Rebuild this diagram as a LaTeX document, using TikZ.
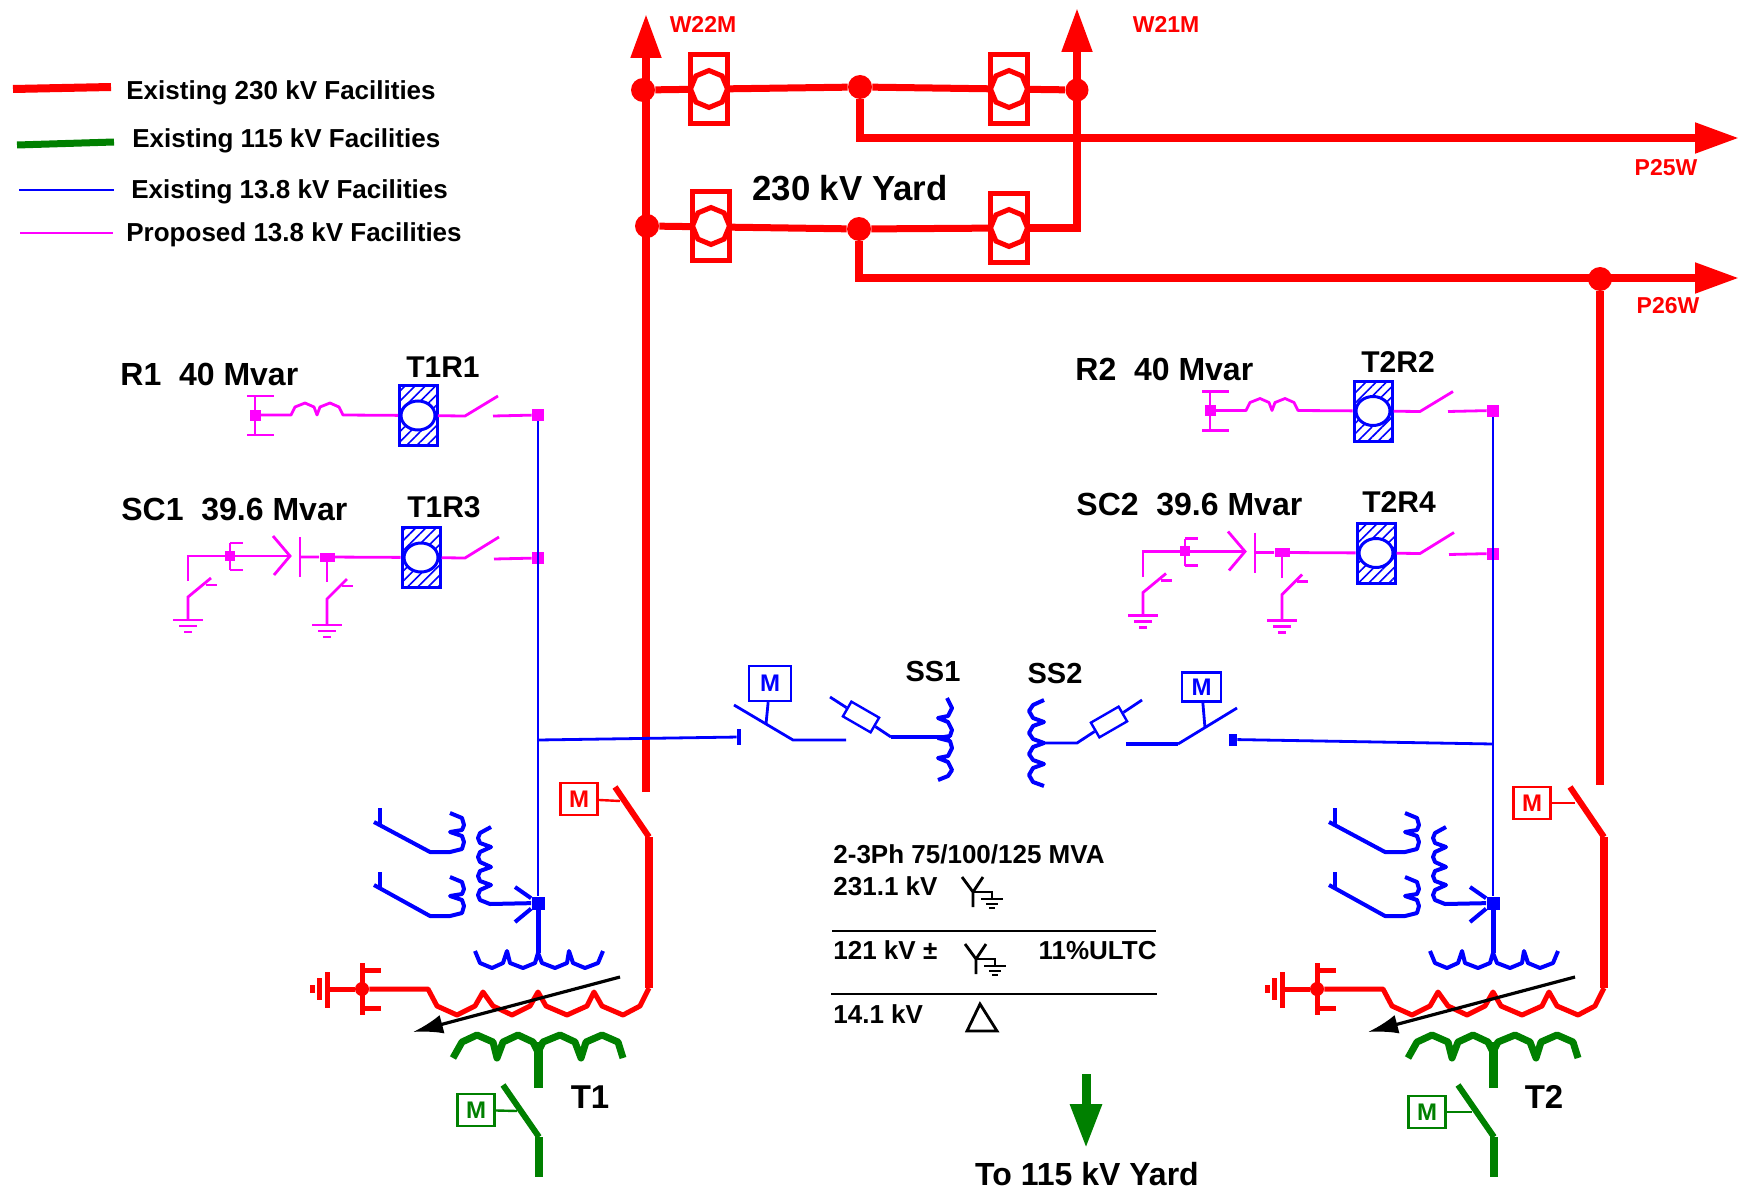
\documentclass[tikz,border=0pt]{standalone}
\usepackage{fontspec}
\setmainfont{Liberation Sans}
\usetikzlibrary{arrows.meta,patterns.meta,shapes.geometric}
\definecolor{hvcolor}{RGB}{255,0,0}
\definecolor{mvcolor}{RGB}{0,128,0}
\definecolor{lvcolor}{RGB}{0,0,255}
\definecolor{newcolor}{RGB}{255,0,255}
\newlength{\buswidth}
\newlength{\thinwidth}
\setlength{\buswidth}{4pt}
\setlength{\thinwidth}{1.4pt}
\tikzstyle{hvbus} = [draw=hvcolor, line width=\buswidth]
\tikzstyle{hvarrow} = [hvbus, -{Triangle[length=22pt,width=14.5pt]}]
\tikzstyle{hvlink} = [draw=hvcolor, line width=3.5pt]
\tikzstyle{hvwind} = [draw=hvcolor, line width=2.5pt, line join=round]
\tikzstyle{mvwind} = [draw=mvcolor, line width=3.5pt, line join=round]
\tikzstyle{mvbus} = [draw=mvcolor, line width=4pt]
\tikzstyle{lvwire} = [draw=lvcolor, line width=\thinwidth]
\tikzstyle{lvwind} = [draw=lvcolor, line width=2pt, line join=round]
\tikzstyle{newwire} = [draw=newcolor, line width=\thinwidth]
\tikzstyle{blackline} = [draw=black, line width=1.4pt]
\tikzstyle{hvjoint} = [circle, fill=hvcolor, inner sep=0, minimum size=12pt]
\tikzstyle{newjoint} = [rectangle, fill=newcolor, inner sep=0, minimum size=6pt]
\tikzstyle{lvjoint} = [rectangle, fill=lvcolor, inner sep=0, minimum size=6.5pt]
\tikzstyle{hvbreaker} = [rectangle, draw=hvcolor, line width=2.5pt, inner sep=0, minimum width=18.5pt, minimum height=34.5pt]
\tikzstyle{hvdisc} = [regular polygon, regular polygon sides=8, shape border rotate=22.5, draw=hvcolor, fill=white, line width=2.5pt, inner sep=0, minimum size=18.5pt]
\tikzstyle{lvbreaker} = [rectangle, draw=lvcolor, line width=1.5pt, inner sep=0, minimum width=19pt, minimum height=30pt, pattern={Lines[angle=45,distance=3.6pt,line width=.8pt]}, pattern color=lvcolor]
\tikzstyle{lvdisc} = [ellipse, draw=lvcolor, fill=white, line width=1.5pt, inner sep=0, minimum width=17pt, minimum height=14.5pt]
\tikzstyle{motorbox} = [rectangle, draw, line width=1.2pt, fill=white, inner sep=0, minimum width=18.5pt, minimum height=16pt, font=\fontsize{12}{12}\selectfont\bfseries]
\tikzstyle{fusebox} = [rectangle, draw=lvcolor, line width=1.2pt, fill=white, inner sep=0, minimum width=16pt, minimum height=8.5pt]
\tikzstyle{lbllegend} = [anchor=base west, inner sep=0, font=\fontsize{13}{13}\selectfont\bfseries]
\tikzstyle{lblline} = [anchor=base, inner sep=0, text=hvcolor, font=\fontsize{11.5}{12}\selectfont\bfseries]
\tikzstyle{lblbank} = [anchor=base west, inner sep=0, font=\fontsize{16}{16}\selectfont\bfseries]
\tikzstyle{lblbay} = [anchor=base, inner sep=0, font=\fontsize{15}{15}\selectfont\bfseries]
\tikzstyle{lbldata} = [anchor=base west, inner sep=0, font=\fontsize{13}{13}\selectfont\bfseries]
\tikzstyle{lbltrans} = [anchor=base, inner sep=0, font=\fontsize{16.5}{17}\selectfont\bfseries]
\newcommand{\hvunit}[2]{
	\node[hvbreaker] (#1) at (#2) {};
	\node[hvdisc] (#1disc) at (#2) {};
}
\newcommand{\lvunit}[2]{
	\node[lvbreaker] (#1) at (#2) {};
	\node[lvdisc] (#1disc) at (#2) {};
}
\newcommand{\earthmark}[1]{
	\draw[newwire] ([xshift=-7.5pt]#1) -- ([xshift=7.5pt]#1);
	\draw[newwire] ([xshift=-4.5pt,yshift=-3pt]#1) -- ([xshift=4.5pt,yshift=-3pt]#1);
	\draw[newwire] ([xshift=-2pt,yshift=-6pt]#1) -- ([xshift=2pt,yshift=-6pt]#1);
}
\newcommand{\wyemark}[3]{
	\begin{scope}[shift={(#2,#3)}]
		\coordinate (#1st) at (0,15);
		\coordinate (#1hub) at (0,0);
		\coordinate (#1la) at (-11,-15);
		\coordinate (#1ra) at (10,-15);
		\coordinate (#1gd) at (19,7);
		\draw[blackline] (#1st) -- (#1hub) -- (#1la);
		\draw[blackline] (#1hub) -- (#1ra);
		\draw[blackline] (#1hub) -| (#1gd);
		\draw[blackline] ([xshift=-5.5pt]#1gd) -- ([xshift=5.5pt]#1gd);
		\draw[blackline] ([xshift=-3pt,yshift=-2.5pt]#1gd) -- ([xshift=3pt,yshift=-2.5pt]#1gd);
		\draw[blackline] ([xshift=-1.5pt,yshift=-4.5pt]#1gd) -- ([xshift=1.5pt,yshift=-4.5pt]#1gd);
	\end{scope}
}
% reactor and capacitor bays, one for each transformer
\newcommand{\capbays}[7]{
	\begin{scope}[shift={(#2,#3)}]
		\node[lblbank] (#1rlbl) at (120,385) {#4};
		\node[lblbay] (#1rtag) at (443,377) {#5};
		\node[lblbank] (#1clbl) at (121,520) {#6};
		\node[lblbay] (#1ctag) at (444,517) {#7};
		% reactor row
		\node[newjoint] (#1rtap) at (538,415) {};
		\lvunit{#1rbrk}{418,415.5}
		\node[newjoint, minimum size=5.5pt] (#1rend) at (255,415) {};
		\coordinate (#1rtop) at (255,396);
		\coordinate (#1rbot) at (255,435);
		\coordinate (#1l1) at (291,415);
		\coordinate (#1l2) at (343,415);
		\coordinate (#1rsw) at (465,416);
		\coordinate (#1rtip) at (498,396);
		\coordinate (#1rgap) at (493,416);
		\draw[newwire] (#1rtop) -- (#1rbot);
		\draw[newwire] (#1rtop) ++(-8,0) -- ++(27,0);
		\draw[newwire] (#1rbot) ++(-8,0) -- ++(27,0);
		\draw[newwire, line join=round] (#1rend) -- (#1l1) -- (295,407) -- (305,403) -- (314,407) -- (317,415) -- (320,407) -- (330,403) -- (339,407) -- (#1l2) -- (#1rbrk);
		\draw[newwire] (#1rbrk) -- (#1rsw) -- (#1rtip);
		\draw[newwire] (#1rgap) -- (#1rtap);
		% capacitor row
		\node[newjoint] (#1ctap) at (538,558) {};
		\lvunit{#1cbrk}{421,557.5}
		\node[newjoint, minimum width=7.5pt, minimum height=4.5pt] (#1cnode) at (327,557) {};
		\node[newjoint, minimum size=5pt] (#1bnode) at (230,555.5) {};
		\coordinate (#1ccnr) at (188,556);
		\coordinate (#1cend) at (188,581);
		\coordinate (#1cpt) at (290,556);
		\coordinate (#1ptop) at (300,537);
		\coordinate (#1pbot) at (300,577);
		\coordinate (#1btop) at (230,543);
		\coordinate (#1bbot) at (230,570);
		\coordinate (#1csw) at (465,558);
		\coordinate (#1ctip) at (499,537);
		\coordinate (#1cgap) at (494,559);
		\draw[newwire] (#1cend) -- (#1ccnr) -- (#1cpt);
		\draw[newwire] (273,536) -- (#1cpt) -- (274,575);
		\draw[newwire] (#1ptop) -- (#1pbot);
		\draw[newwire] (#1btop) -- (#1bbot);
		\draw[newwire] (#1btop) -- ++(13,0);
		\draw[newwire] (#1bbot) -- ++(13,0);
		\draw[newwire] (300,557) -- (#1cnode) -- (#1cbrk);
		\draw[newwire] (#1cbrk) -- (#1csw) -- (#1ctip);
		\draw[newwire] (#1cgap) -- (#1ctap);
		% earth switches
		\coordinate (#1ea) at (188,597);
		\coordinate (#1eag) at (188,620);
		\draw[newwire] (#1eag) -- (#1ea) -- (211,578);
		\draw[newwire] (206,585) -- (217,585);
		\earthmark{#1eag}
		\coordinate (#1eb) at (327,599);
		\coordinate (#1ebg) at (327,625);
		\coordinate (#1ebs) at (327,582);
		\draw[newwire] (#1cnode) -- (#1ebs);
		\draw[newwire] (#1ebg) -- (#1eb) -- (347,579);
		\draw[newwire] (342,586) -- (353,586);
		\earthmark{#1ebg}
	\end{scope}
}
% transformer windings and the current transformers beside them
\newcommand{\bankdraw}[2]{
	\begin{scope}[shift={(#2,0)}]
		\node[lvjoint] (#1star) at (538,903) {};
		\coordinate (#1neck) at (538,953);
		\draw[draw=lvcolor, line width=2.5pt] (#1star) -- (#1neck);
		\draw[lvwind] (475,951) -- (480,963) -- (492,968) -- (503,963) -- (507,951) -- (510,963) -- (523,968) -- (535,963) -- (#1neck) -- (542,963) -- (555,968) -- (567,963) -- (569,951) -- (573,963) -- (585,968) -- (598,963) -- (603,951);
		\draw[lvwind] (491,827) -- (480,833) -- (478,838) -- (480,843) -- (491,847) -- (480,852) -- (478,857) -- (480,862) -- (491,867) -- (480,871) -- (478,876) -- (480,881) -- (491,885) -- (480,890) -- (478,895) -- (480,900) -- (490,904) -- (#1star);
		\draw[lvwind] (515,887) -- (#1star) -- (515,922);
		\draw[lvwind] (450,813) -- (462,818) -- (464,825) -- (462,830) -- (450,832) -- (462,836) -- (464,842) -- (462,849) -- (450,852) -- (430,852) -- (374,822);
		\draw[lvwind] (380,808) -- (380,825);
		\draw[lvwind] (450,877) -- (462,882) -- (464,889) -- (462,894) -- (450,896) -- (462,900) -- (464,906) -- (462,913) -- (450,916) -- (430,916) -- (374,885);
		\draw[lvwind] (380,872) -- (380,889);
		% high side winding
		\coordinate (#1hvtip) at (615,787);
		\coordinate (#1hvknee) at (649,837);
		\coordinate (#1hvlow) at (649,988);
		\node[circle, fill=hvcolor, inner sep=0, minimum size=7pt] (#1hvnode) at (362,989) {};
		\draw[draw=hvcolor, line width=3pt] (#1hvtip) -- (#1hvknee);
		\draw[hvbus] (#1hvknee) -- (#1hvlow);
		\draw[hvwind] (#1hvlow) -- (640,1006) -- (623,1015) -- (602,1006) -- (594,992) -- (587,1006) -- (567,1015) -- (546,1006) -- (538,992) -- (530,1006) -- (512,1015) -- (493,1006) -- (483,992) -- (475,1006) -- (457,1015) -- (437,1006) -- (428,989) -- (#1hvnode);
		\draw[hvwind] (362,963) -- (362,1015);
		\draw[hvwind] (362,970) -- (381,970);
		\draw[hvwind] (362,1008) -- (381,1008);
		\coordinate (#1gnd) at (327,989);
		\draw[hvwind] (#1hvnode) -- (#1gnd);
		\draw[hvwind] (327,972) -- (327,1008);
		\draw[hvwind] (319,978) -- (319,1000);
		\draw[hvwind] (312,985) -- (312,993);
		\coordinate (#1tapa) at (620,977);
		\coordinate (#1tapb) at (413,1032);
		\draw[blackline, line width=1.6pt, -{Latex[length=15pt,width=9.5pt]}] (#1tapa) -- (#1tapb);
		% low side winding
		\coordinate (#1mvmid) at (538,1042);
		\coordinate (#1mvend) at (538,1088);
		\draw[mvwind] (453,1058) -- (462,1042) -- (477,1035) -- (493,1042) -- (497,1058) -- (503,1042) -- (518,1035) -- (533,1042) -- (538,1052) -- (543,1042) -- (560,1035) -- (575,1042) -- (581,1058) -- (586,1042) -- (602,1035) -- (618,1042) -- (623,1058);
		\draw[draw=mvcolor, line width=4.5pt] (#1mvmid) -- (#1mvend);
		\coordinate (#1mvtip) at (503,1085);
		\coordinate (#1mvknee) at (539,1137);
		\coordinate (#1mvout) at (539,1177);
		\draw[draw=mvcolor, line width=3pt] (#1mvtip) -- (#1mvknee);
		\draw[mvbus] (#1mvknee) -- (#1mvout);
	\end{scope}
}

\begin{document}
\begin{tikzpicture}[x=0.5pt, y=-0.5pt]
	\useasboundingbox (0,0) rectangle (1739,1188);
	
	% legend
	\coordinate (lgaa) at (13,89);
	\coordinate (lgab) at (111,87);
	\coordinate (lgba) at (17,145);
	\coordinate (lgbb) at (114,142);
	\coordinate (lgca) at (19,190);
	\coordinate (lgcb) at (114,190);
	\coordinate (lgda) at (20,233);
	\coordinate (lgdb) at (113,233);
	\draw[hvbus] (lgaa) -- (lgab);
	\draw[draw=mvcolor, line width=3.5pt] (lgba) -- (lgbb);
	\draw[lvwire] (lgca) -- (lgcb);
	\draw[newwire] (lgda) -- (lgdb);
	\node[lbllegend] (lgone) at (126,99) {Existing 230 kV Facilities};
	\node[lbllegend] (lgtwo) at (132,148) {Existing 115 kV Facilities};
	\node[lbllegend] (lgthree) at (131,198) {Existing 13.8 kV Facilities};
	\node[lbllegend] (lgfour) at (126,241) {Proposed 13.8 kV Facilities};
	
	% 230 kV yard
	\coordinate (wtwotwo) at (646,14);
	\coordinate (wtwoone) at (1077,8);
	\coordinate (pfive) at (1739,138);
	\coordinate (psix) at (1739,278);
	\coordinate (tonefeed) at (646,792);
	\coordinate (ttwofeed) at (1600,785);
	\node[hvjoint] (jaa) at (643,90) {};
	\node[hvjoint] (jab) at (860,87) {};
	\node[hvjoint, minimum size=11.5pt] (jac) at (1077,90) {};
	\node[hvjoint] (jba) at (647,226) {};
	\node[hvjoint] (jbb) at (859,229) {};
	\node[hvjoint] (jbc) at (1600,279) {};
	\draw[hvarrow] (tonefeed) -- (wtwotwo);
	\draw[hvlink] (jaa) -- (jab) -- (jac);
	\draw[hvlink] (jba) -- (jbb);
	\draw[hvarrow] (jab) |- (pfive);
	\draw[hvarrow] (jbb) |- (psix);
	\draw[hvbus] (jbc) -- (ttwofeed);
	\draw[hvlink] (jbb) -- (1009,228);
	\draw[hvarrow] (1009,228) -| (wtwoone);
	\hvunit{baa}{709,89}
	\hvunit{bab}{1009,89}
	\hvunit{bba}{711,226}
	\hvunit{bbb}{1009,228}
	\node[lblline] (lblwtwo) at (703,33) {W22M};
	\node[lblline] (lblwone) at (1166,33) {W21M};
	\node[lblline] (lblpfive) at (1666,176) {P25W};
	\node[lblline] (lblpsix) at (1668,313) {P26W};
	\node[anchor=base, inner sep=0, font=\fontsize{17.4}{18}\selectfont\bfseries] (lblyard) at (850,200) {230 kV Yard};
	
	% bays and transformers
	\capbays{a}{0}{0}{R1~~40 Mvar}{T1R1}{SC1~~39.6 Mvar}{T1R3}
	\capbays{b}{955}{-4.5}{R2~~40 Mvar}{T2R2}{SC2~~39.6 Mvar}{T2R4}
	\bankdraw{ta}{0}
	\bankdraw{tb}{955}
	\draw[lvwire] (artap) -- (tastar);
	\draw[lvwire] (brtap) -- (tbstar);
	\node[lbltrans] (lbltone) at (590,1108) {T1};
	\node[lbltrans] (lblttwo) at (1544,1108) {T2};
	
	% motor operators on the transformer switches
	\node[motorbox, draw=hvcolor, text=hvcolor] (mha) at (579,799) {M};
	\node[motorbox, draw=hvcolor, text=hvcolor] (mhb) at (1532,803) {M};
	\node[motorbox, draw=mvcolor, text=mvcolor] (mma) at (476,1110) {M};
	\node[motorbox, draw=mvcolor, text=mvcolor] (mmb) at (1427,1112) {M};
	\coordinate (mhal) at (620,801);
	\coordinate (mhbl) at (1575,803);
	\coordinate (mmal) at (517,1111);
	\coordinate (mmbl) at (1472,1112);
	\draw[draw=hvcolor, line width=1.2pt] (mha) -- (mhal);
	\draw[draw=hvcolor, line width=1.2pt] (mhb) -- (mhbl);
	\draw[draw=mvcolor, line width=1.2pt] (mma) -- (mmal);
	\draw[draw=mvcolor, line width=1.2pt] (mmb) -- (mmbl);
	
	% station service
	\coordinate (tapa) at (538,740);
	\node[rectangle, fill=lvcolor, inner sep=0, minimum width=2pt, minimum height=8pt] (ssaend) at (739,737) {};
	\coordinate (ssahinge) at (793,740);
	\coordinate (ssatip) at (734,705);
	\coordinate (ssaout) at (846,740);
	\coordinate (ssafa) at (830,697);
	\coordinate (ssafb) at (891,737);
	\coordinate (ssahub) at (950,737);
	\node[fusebox, rotate=-30] (ssafuse) at (861,717) {};
	\node[motorbox, draw=lvcolor, text=lvcolor, minimum width=21pt, minimum height=17.5pt] (mla) at (770,683.5) {M};
	\coordinate (mlal) at (766,724);
	\draw[lvwire] (tapa) -- (ssaend);
	\draw[lvwire] (ssatip) -- (ssahinge) -- (ssaout);
	\draw[lvwire] (mla) -- (mlal);
	\draw[lvwire] (ssafa) -- (ssafuse) -- (ssafb);
	\draw[lvwind] (ssafb) -- (ssahub);
	\draw[lvwind] (947,698) -- (952,708) -- (948,716) -- (938,718) -- (948,722) -- (952,730) -- (950,736) -- (938,738) -- (950,741) -- (952,748) -- (948,756) -- (938,758) -- (948,762) -- (952,770) -- (948,776) -- (938,780);
	\node[lblbay, font=\fontsize{14.5}{15}\selectfont\bfseries] (lblssa) at (933,681) {SS1};
	
	\coordinate (tapb) at (1493,744);
	\node[rectangle, fill=lvcolor, inner sep=0, minimum width=4pt, minimum height=6pt] (ssbend) at (1233,739.5) {};
	\coordinate (ssbhinge) at (1178,744);
	\coordinate (ssbtip) at (1237,708);
	\coordinate (ssbout) at (1126,744);
	\coordinate (ssbfa) at (1142,700);
	\coordinate (ssbfb) at (1077,743);
	\coordinate (ssbhub) at (1044,743);
	\node[fusebox, rotate=30] (ssbfuse) at (1109,722) {};
	\node[motorbox, draw=lvcolor, text=lvcolor, minimum width=19.5pt, minimum height=14.5pt] (mlb) at (1201.5,687) {M};
	\coordinate (mlbl) at (1205,728);
	\draw[lvwire] (tapb) -- (ssbend);
	\draw[lvwire] (ssbtip) -- (ssbhinge);
	\draw[lvwind] (ssbhinge) -- (ssbout);
	\draw[lvwire] (mlb) -- (mlbl);
	\draw[lvwire] (ssbfa) -- (ssbfuse) -- (ssbfb) -- (ssbhub);
	\draw[lvwind] (1044,700) -- (1033,705) -- (1029,711) -- (1033,718) -- (1044,722) -- (1033,726) -- (1029,733) -- (1033,739) -- (1044,743) -- (1033,747) -- (1029,754) -- (1033,760) -- (1044,764) -- (1033,768) -- (1029,775) -- (1033,782) -- (1044,786);
	\node[lblbay, font=\fontsize{14.5}{15}\selectfont\bfseries] (lblssb) at (1055,683) {SS2};
	
	% transformer data
	\node[lbldata] (dataa) at (833,863) {2-3Ph 75/100/125 MVA};
	\node[lbldata] (datab) at (833,895) {231.1 kV};
	\wyemark{wa}{973}{892}
	\coordinate (ruleaa) at (832,931);
	\coordinate (ruleab) at (1156,931);
	\draw[blackline] (ruleaa) -- (ruleab);
	\node[lbldata] (datac) at (833,959) {121 kV ±};
	\wyemark{wb}{976}{959}
	\node[lbldata, anchor=base east] (datad) at (1157,959) {11\%ULTC};
	\coordinate (ruleba) at (831,994);
	\coordinate (rulebb) at (1157,994);
	\draw[blackline] (ruleba) -- (rulebb);
	\node[lbldata] (datae) at (833,1023) {14.1 kV};
	\coordinate (trisa) at (980,1004);
	\coordinate (trisb) at (967,1031);
	\coordinate (trisc) at (997,1031);
	\draw[blackline] (trisa) -- (trisb) -- (trisc) -- cycle;
	
	% outgoing 115 kV
	\coordinate (outa) at (1086,1074);
	\coordinate (outb) at (1086,1148);
	\draw[draw=mvcolor, line width=4.5pt, -{Triangle[length=22pt,width=15pt]}] (outa) -- (outb);
	\node[anchor=base, inner sep=0, font=\fontsize{16}{16}\selectfont\bfseries] (lblout) at (1087,1185) {To 115 kV Yard};
	
\end{tikzpicture}
\end{document}
